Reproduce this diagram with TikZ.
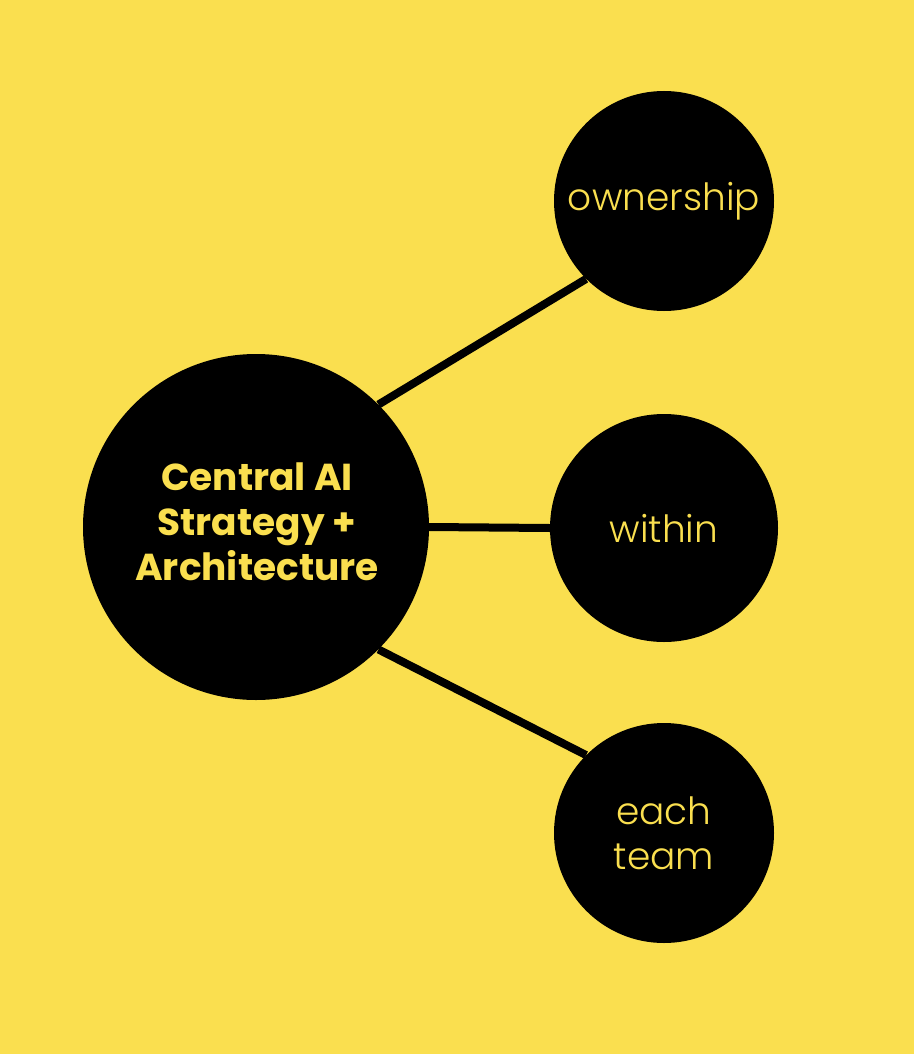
\documentclass[tikz,border=0pt]{standalone}
\usepackage{fontspec}
\setmainfont{Poppins}
\newfontfamily\poplight{Poppins Light}
\definecolor{bgyellow}{HTML}{FADF4F}
\begin{document}
\begin{tikzpicture}[x=1pt,y=-1pt,
  bubble/.style={circle,fill=black,draw=none,inner sep=0pt,text=bgyellow,align=center},
  lighttext/.style={font=\poplight\fontsize{37.5}{45}\selectfont},
  link/.style={line width=8pt,draw=black}]
\fill[bgyellow] (0,0) rectangle (914,1054);
\useasboundingbox (0,0) rectangle (914,1054);
\node[bubble,minimum size=346pt] (c) at (256,527) {};
\node[text=bgyellow,align=center,inner sep=0pt,font=\fontsize{37.5}{45}\selectfont\bfseries] (ct) at (257,522) {Central AI\\Strategy +\\Architecture};
\node[bubble,minimum size=220pt,lighttext] (o) at (664,201) {ownership};
\node[bubble,minimum size=228pt,lighttext] (w) at (664,528) {within};
\node[bubble,minimum size=220pt,lighttext] (e) at (664,833) {each\\team};
\draw[link] (c.45) -- (o.225);
\draw[link] (c.east) -- (w.west);
\draw[link] (c.-45) -- (e.135);
\end{tikzpicture}
\end{document}
